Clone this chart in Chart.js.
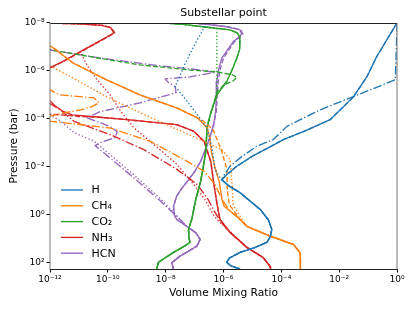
<!DOCTYPE html>
<html>
<head>
<meta charset="utf-8">
<script src="https://cdn.jsdelivr.net/npm/chart.js@4.4.1/dist/chart.umd.min.js"></script>
<style>
  html, body { margin: 0; padding: 0; background: #fff; }
  canvas { display: block; }
</style>
</head>
<body>
<canvas id="chart" width="415" height="311"></canvas>
<script>
"use strict";

// Profiles as [log10 pressure (bar), log10 volume mixing ratio]
var hSolid = [[-8.0, 0.0], [-6.6, -0.7], [-5.76, -1.04], [-4.93, -1.5], [-3.97, -2.31], [-3.5, -3.18],
    [-3.14, -3.93], [-2.84, -4.39], [-2.45, -5.0], [-2.03, -5.54], [-1.7, -5.87], [-1.47, -6.06],
    [-1.2, -5.8], [-0.93, -5.43], [-0.23, -4.73], [0.2, -4.45], [0.6, -4.33], [0.9, -4.38],
    [1.14, -4.5], [1.35, -4.9], [1.56, -5.43], [1.8, -5.8], [1.97, -5.89], [2.12, -5.75], [2.25, -5.43]];
var hDashed = hSolid;
var hDotted = [[-8.0, -6.58], [-7.2, -6.95], [-6.3, -7.33], [-5.35, -7.67], [-4.8, -7.3], [-4.17, -6.9],
    [-3.62, -6.56], [-2.8, -6.4], [-1.89, -6.29], [-1.47, -6.08], [-1.2, -5.8], [-0.93, -5.43],
    [-0.23, -4.73], [0.2, -4.45], [0.6, -4.33], [0.9, -4.38], [1.14, -4.5], [1.35, -4.9],
    [1.56, -5.43], [1.8, -5.8], [1.97, -5.89], [2.12, -5.75], [2.25, -5.43]];
var hDashdot = [[-8.0, 0.0], [-7.0, -0.02], [-5.63, -0.06], [-4.93, -1.51], [-4.38, -2.66], [-3.69, -3.81],
    [-3.14, -4.28], [-2.86, -4.85], [-2.45, -5.35], [-2.03, -5.77], [-1.61, -6.01], [-1.47, -6.06],
    [-1.2, -5.8], [-0.93, -5.43], [-0.23, -4.73], [0.2, -4.45], [0.6, -4.33], [0.9, -4.38],
    [1.14, -4.5], [1.35, -4.9], [1.56, -5.43], [1.8, -5.8], [1.97, -5.89], [2.12, -5.75], [2.25, -5.43]];

var ch4Solid = [[-7.2, -12.6], [-7.01, -11.94], [-6.33, -11.2], [-5.63, -10.04], [-5.0, -8.89],
    [-4.45, -7.6], [-4.04, -6.9], [-3.62, -6.56], [-3.2, -6.47], [-2.65, -6.42], [-2.0, -6.3],
    [-1.4, -6.15], [-0.64, -6.05], [-0.36, -5.98], [0.05, -5.54], [0.47, -5.19], [0.88, -4.39],
    [1.23, -3.58], [1.57, -3.35], [1.9, -3.34], [2.25, -3.34]];
var ch4Dashed = [[-7.2, -12.6], [-7.01, -11.94], [-6.33, -11.2], [-5.63, -10.04], [-5.0, -8.89],
    [-4.45, -7.6], [-4.04, -6.9], [-3.92, -6.71], [-3.55, -6.36], [-2.72, -6.08], [-1.89, -5.88],
    [-1.06, -5.87], [-0.44, -5.8], [0.19, -5.43], [0.48, -5.18], [0.88, -4.39], [1.23, -3.58],
    [1.57, -3.35], [1.9, -3.34], [2.25, -3.34]];
var ch4Dotted = [[-6.4, -12.6], [-6.18, -11.94], [-5.54, -10.96], [-4.92, -10.04], [-4.46, -9.23],
    [-3.88, -8.19], [-3.14, -6.81], [-2.72, -6.05], [-2.3, -5.77], [-1.26, -5.7], [-0.43, -5.67],
    [0.19, -5.36], [0.48, -5.18], [0.88, -4.39], [1.23, -3.58], [1.57, -3.35], [1.9, -3.34], [2.25, -3.34]];
var ch4Dashdot = [[-5.3, -12.6], [-5.21, -12.0], [-5.0, -11.65], [-4.88, -10.48], [-4.67, -10.3],
    [-4.51, -10.55], [-4.38, -10.94], [-4.22, -11.65], [-4.09, -12.1], [-4.0, -12.4], [-3.9, -11.94],
    [-3.62, -9.9], [-3.06, -8.52], [-2.23, -7.25], [-1.82, -6.67], [-1.27, -6.29], [-0.64, -6.05],
    [-0.2, -5.8], [0.19, -5.43], [0.48, -5.18], [0.88, -4.39], [1.23, -3.58], [1.57, -3.35],
    [1.9, -3.34], [2.25, -3.34]];

var co2Solid = [[-8.0, -8.19], [-7.95, -7.5], [-7.84, -6.71], [-7.71, -5.77], [-7.58, -5.53],
    [-7.4, -5.43], [-7.22, -5.43], [-6.9, -5.45], [-6.53, -5.54], [-6.0, -5.72], [-5.56, -5.89],
    [-5.0, -6.23], [-4.17, -6.46], [-3.63, -6.57], [-2.65, -6.61], [-2.0, -6.7], [-1.4, -6.79],
    [-0.64, -6.96], [0.19, -7.1], [0.6, -7.21], [0.9, -7.2], [1.14, -7.16], [1.3, -7.35],
    [1.56, -7.73], [1.97, -8.25], [2.25, -8.31]];
var co2Dashed = [[-7.1, -12.6], [-6.87, -11.94], [-6.55, -10.4], [-6.25, -8.89], [-6.04, -7.16],
    [-5.96, -6.23], [-5.84, -5.7], [-5.73, -5.53], [-5.59, -5.67], [-5.42, -5.98], [-5.13, -6.22],
    [-4.17, -6.46], [-3.63, -6.57], [-2.65, -6.61], [-2.0, -6.7], [-1.4, -6.79], [-0.64, -6.96],
    [0.19, -7.1], [0.6, -7.21], [0.9, -7.2], [1.14, -7.16], [1.3, -7.35], [1.56, -7.73],
    [1.97, -8.25], [2.25, -8.31]];
var co2Dotted = [[-8.0, -8.19], [-7.95, -7.5], [-7.84, -6.71], [-7.77, -6.23], [-7.3, -6.23],
    [-6.87, -6.23], [-6.3, -6.23], [-5.84, -6.23], [-5.21, -6.22], [-4.6, -6.35], [-4.17, -6.46],
    [-3.63, -6.57], [-2.65, -6.61], [-2.0, -6.7], [-1.4, -6.79], [-0.64, -6.96], [0.19, -7.1],
    [0.6, -7.21], [0.9, -7.2], [1.14, -7.16], [1.3, -7.35], [1.56, -7.73], [1.97, -8.25], [2.25, -8.31]];
var co2Dashdot = co2Solid;

var nh3Solid = [[-8.0, -12.3], [-7.96, -11.0], [-7.9, -10.2], [-7.8, -9.9], [-7.58, -9.79],
    [-7.2, -10.35], [-6.8, -10.95], [-6.4, -11.55], [-6.13, -12.0], [-5.95, -12.5], [-4.85, -12.4],
    [-4.73, -11.98], [-4.55, -11.83], [-4.34, -11.58], [-4.17, -11.24], [-4.07, -10.27],
    [-3.97, -9.34], [-3.76, -7.61], [-3.48, -7.02], [-3.06, -6.67], [-2.23, -6.44], [-1.26, -6.33],
    [-0.43, -6.22], [0.19, -6.12], [0.73, -5.77], [1.35, -5.19], [1.77, -4.63], [2.14, -4.39], [2.25, -4.37]];
var nh3Dashed = [[-8.0, -12.3], [-7.96, -11.0], [-7.9, -10.2], [-7.8, -9.88], [-7.58, -9.76],
    [-7.2, -10.33], [-6.8, -10.93], [-6.4, -11.53], [-6.13, -12.0], [-5.95, -12.5], [-4.3, -12.5],
    [-4.2, -11.98], [-4.15, -11.4], [-4.1, -11.0], [-4.07, -10.27], [-3.97, -9.34], [-3.76, -7.61],
    [-3.48, -7.02], [-3.06, -6.67], [-2.23, -6.44], [-1.26, -6.33], [-0.43, -6.22], [0.19, -6.12],
    [0.73, -5.77], [1.35, -5.19], [1.77, -4.63], [2.14, -4.39], [2.25, -4.37]];
var nh3Dotted = [[-8.0, -12.3], [-7.96, -11.0], [-7.9, -10.2], [-7.8, -9.9], [-7.58, -9.79],
    [-7.2, -10.35], [-6.79, -10.96], [-6.2, -10.7], [-5.63, -10.37], [-5.0, -9.92], [-4.31, -9.55],
    [-3.62, -9.09], [-2.93, -8.4], [-2.1, -7.6], [-1.26, -7.02], [-0.64, -6.64], [-0.02, -6.36],
    [0.23, -6.19], [0.6, -5.85], [1.35, -5.19], [1.77, -4.63], [2.14, -4.39], [2.25, -4.37]];
var nh3Dashdot = [[-4.8, -12.5], [-4.63, -11.98], [-4.38, -11.65], [-3.9, -11.17], [-3.34, -9.9],
    [-2.72, -8.75], [-1.89, -7.6], [-1.26, -6.9], [-0.64, -6.53], [-0.1, -6.29], [0.27, -6.1],
    [0.73, -5.77], [1.35, -5.19], [1.77, -4.63], [2.14, -4.39], [2.25, -4.37]];

var hcnSolid = [[-8.0, -7.16], [-7.93, -6.5], [-7.84, -5.89], [-7.71, -5.43], [-7.54, -5.37],
    [-7.38, -5.5], [-7.22, -5.66], [-6.9, -5.85], [-6.53, -6.06], [-6.0, -6.18], [-5.56, -6.23],
    [-4.9, -6.25], [-4.31, -6.27], [-3.8, -6.34], [-3.34, -6.44], [-2.8, -6.6], [-2.23, -6.79],
    [-1.8, -7.0], [-1.4, -7.25], [-1.1, -7.45], [-0.78, -7.62], [-0.36, -7.73], [0.0, -7.7],
    [0.19, -7.62], [0.47, -7.27], [0.75, -6.95], [1.02, -6.81], [1.3, -6.92], [1.5, -7.2],
    [1.71, -7.5], [1.99, -7.79], [2.25, -7.73]];
var hcnDashed = [[-8.0, -7.12], [-7.93, -6.45], [-7.84, -5.85], [-7.71, -5.4], [-7.54, -5.33],
    [-7.38, -5.46], [-7.22, -5.62], [-6.9, -5.8], [-6.53, -6.0], [-6.0, -6.13], [-5.56, -6.18],
    [-4.9, -6.22], [-4.31, -6.25], [-3.8, -6.33], [-3.34, -6.44], [-2.8, -6.6], [-2.23, -6.79],
    [-1.8, -7.0], [-1.4, -7.25], [-1.1, -7.45], [-0.78, -7.62], [-0.36, -7.73], [0.0, -7.7],
    [0.19, -7.62], [0.47, -7.27], [0.75, -6.95], [1.02, -6.81], [1.3, -6.92], [1.5, -7.2],
    [1.71, -7.5], [1.99, -7.79], [2.25, -7.73]];
var hcnDotted = [[-4.3, -12.5], [-4.17, -12.0], [-3.92, -11.65], [-3.43, -11.17], [-3.09, -10.51],
    [-2.97, -10.37], [-1.81, -9.23], [-0.69, -8.19], [0.09, -7.57], [0.47, -7.27], [0.75, -6.95],
    [1.02, -6.81], [1.3, -6.92], [1.5, -7.2], [1.71, -7.5], [1.99, -7.79], [2.25, -7.73]];
var hcnDashdot = [[-7.1, -12.5], [-6.87, -12.0], [-6.54, -10.27], [-6.21, -8.19], [-6.04, -6.81],
    [-5.94, -6.29], [-5.75, -7.16], [-5.67, -8.02], [-5.54, -7.92], [-5.34, -7.67], [-5.09, -7.64],
    [-4.67, -8.89], [-4.3, -10.27], [-4.05, -10.72], [-3.68, -9.92], [-3.47, -9.68], [-3.22, -9.75],
    [-3.01, -10.27], [-2.89, -10.44], [-1.68, -9.23], [-0.57, -8.17], [0.19, -7.5], [0.47, -7.27],
    [0.75, -6.95], [1.02, -6.81], [1.3, -6.92], [1.5, -7.2], [1.71, -7.5], [1.99, -7.79], [2.25, -7.73]];

var species = ['H', 'CH\u2084', 'CO\u2082', 'NH\u2083', 'HCN'];
var speciesColors = ['#1f77b4', '#ff7f0e', '#2ca02c', '#d62728', '#9467bd'];
var profiles = [
    [hSolid, hDashed, hDotted, hDashdot],
    [ch4Solid, ch4Dashed, ch4Dotted, ch4Dashdot],
    [co2Solid, co2Dashed, co2Dotted, co2Dashdot],
    [nh3Solid, nh3Dashed, nh3Dotted, nh3Dashdot],
    [hcnSolid, hcnDashed, hcnDotted, hcnDashdot],
];

var xTickExps = [-12, -10, -8, -6, -4, -2, 0];
var yTickExps = [-8, -6, -4, -2, 0, 2];
var yMaxExp = 2.25;

var LW = 1.35;
var dashStyles = [[], [5, 2.2], [1.35, 2.2], [8.6, 2.2, 1.35, 2.2]];
var FONT = "'DejaVu Sans', 'Liberation Sans', sans-serif";

function toPoints(pairs) {
    return pairs.map(function (p) {
        return {x: Math.pow(10, p[1]), y: Math.pow(10, p[0])};
    });
}

function powerLabel(value) {
    var sup = {'-': '\u207b', '0': '\u2070', '1': '\u00b9', '2': '\u00b2', '3': '\u00b3',
        '4': '\u2074', '5': '\u2075', '6': '\u2076', '7': '\u2077', '8': '\u2078', '9': '\u2079'};
    var e = String(Math.round(Math.log10(value)));
    return '10' + e.split('').map(function (c) { return sup[c]; }).join('');
}

var datasets = [];
profiles.forEach(function (set, i) {
    set.forEach(function (pairs, j) {
        datasets.push({
            label: species[i],
            legendEntry: j === 0,
            data: toPoints(pairs),
            borderColor: speciesColors[i],
            borderWidth: LW,
            borderDash: dashStyles[j],
            borderCapStyle: 'butt',
            borderJoinStyle: 'round',
            pointRadius: 0,
            fill: false,
            tension: 0,
        });
    });
});

// axes frame, drawn over the lines like matplotlib spines
var framePlugin = {
    id: 'frame',
    afterDatasetsDraw: function (chart) {
        var a = chart.chartArea, ctx = chart.ctx;
        ctx.save();
        ctx.lineWidth = 1;
        ctx.strokeStyle = '#222';
        ctx.beginPath();
        ctx.moveTo(a.left, Math.round(a.top) + 0.5);
        ctx.lineTo(a.right, Math.round(a.top) + 0.5);
        ctx.moveTo(a.left, Math.round(a.bottom) + 0.5);
        ctx.lineTo(a.right, Math.round(a.bottom) + 0.5);
        ctx.stroke();
        ctx.strokeStyle = '#777';
        ctx.beginPath();
        ctx.moveTo(Math.round(a.left), a.top);
        ctx.lineTo(Math.round(a.left), a.bottom + 0.5);
        ctx.moveTo(Math.round(a.right), a.top);
        ctx.lineTo(Math.round(a.right), a.bottom + 0.5);
        ctx.stroke();
        ctx.restore();
    }
};

var legendPlugin = {
    id: 'innerLegend',
    afterDraw: function (chart) {
        var ctx = chart.ctx;
        var entries = chart.data.datasets.filter(function (d) { return d.legendEntry; });
        ctx.save();
        ctx.font = '11px ' + FONT;
        ctx.textBaseline = 'middle';
        ctx.fillStyle = '#000';
        entries.forEach(function (d, k) {
            var y = 190 + k * 15.8;
            ctx.strokeStyle = d.borderColor;
            ctx.lineWidth = LW;
            ctx.setLineDash([]);
            ctx.beginPath();
            ctx.moveTo(61, y);
            ctx.lineTo(83, y);
            ctx.stroke();
            ctx.fillText(d.label, 91.5, y + 0.5);
        });
        ctx.restore();
    }
};

new Chart(document.getElementById('chart'), {
    type: 'line',
    data: {datasets: datasets},
    options: {
        responsive: false,
        animation: false,
        devicePixelRatio: 1,
        layout: {padding: {left: 0, right: 18, top: 0, bottom: 0}},
        plugins: {
            legend: {display: false},
            tooltip: {enabled: false},
            title: {
                display: true,
                fullSize: false,
                text: 'Substellar point',
                color: '#000',
                font: {family: FONT, size: 11, weight: 'normal'},
                padding: {top: 7, bottom: 2.7},
            },
        },
        scales: {
            x: {
                type: 'logarithmic',
                position: 'bottom',
                min: 1e-12,
                max: 1,
                afterBuildTicks: function (scale) {
                    scale.ticks = xTickExps.map(function (e) { return {value: Math.pow(10, e), major: true}; });
                },
                afterFit: function (scale) { scale.height = 42; },
                ticks: {
                    autoSkip: false,
                    maxRotation: 0,
                    color: '#000',
                    padding: 2,
                    font: {family: FONT, size: 9},
                    callback: powerLabel,
                },
                grid: {drawOnChartArea: false, drawTicks: true, tickLength: 3.5, color: '#000'},
                border: {display: false},
                title: {
                    display: true,
                    text: 'Volume Mixing Ratio',
                    color: '#000',
                    font: {family: FONT, size: 10.7},
                    padding: {top: 0, bottom: 11.5},
                },
            },
            y: {
                type: 'logarithmic',
                position: 'left',
                reverse: true,
                min: 1e-8,
                max: Math.pow(10, yMaxExp),
                afterBuildTicks: function (scale) {
                    scale.ticks = yTickExps.map(function (e) { return {value: Math.pow(10, e), major: true}; });
                },
                afterFit: function (scale) { scale.width = 50; },
                ticks: {
                    autoSkip: false,
                    color: '#000',
                    padding: 2,
                    font: {family: FONT, size: 9},
                    callback: powerLabel,
                },
                grid: {drawOnChartArea: false, drawTicks: true, tickLength: 3.5, color: '#000'},
                border: {display: false},
                title: {
                    display: true,
                    text: 'Pressure (bar)',
                    color: '#000',
                    font: {family: FONT, size: 10.7},
                    padding: {top: 7.5, bottom: 0},
                },
            },
        },
    },
    plugins: [framePlugin, legendPlugin],
});
</script>
</body>
</html>
